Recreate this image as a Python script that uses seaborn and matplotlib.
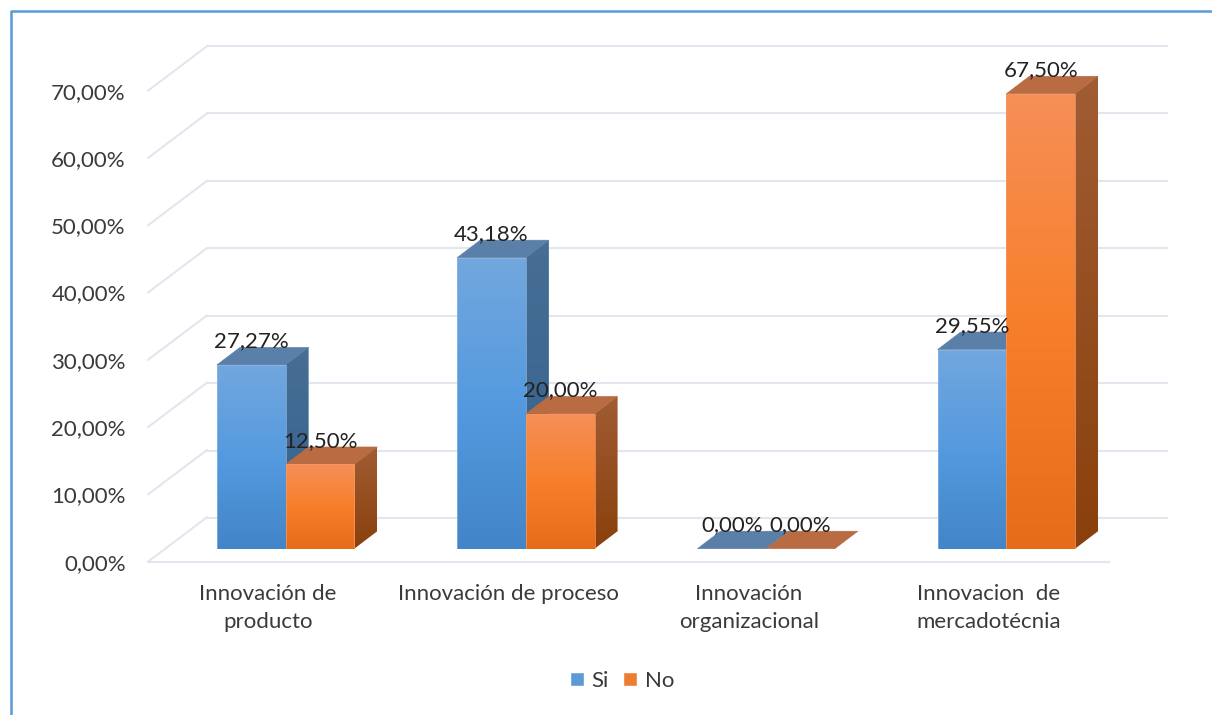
import numpy as np
import pandas as pd
import matplotlib
matplotlib.use("Agg")
import matplotlib.pyplot as plt
import seaborn as sns
from matplotlib.colors import LinearSegmentedColormap
from matplotlib.lines import Line2D
from matplotlib.patches import Polygon

# ---- data ----
categories = ["Innovación de\nproducto", "Innovación de proceso",
              "Innovación\norganizacional", "Innovacion  de\nmercadotécnia"]
si_values = [27.27, 43.18, 0.00, 29.55]
no_values = [12.50, 20.00, 0.00, 67.50]
series_names = ["Si", "No"]
y_ticks = [0, 10, 20, 30, 40, 50, 60, 70]

# ---- style ----
sns.set_theme(style="white")
plt.rcParams["font.family"] = ["Lato", "DejaVu Sans"]
W, H = 1212, 715
FS = 16
TICK_COL = "#3A3A3A"
LABEL_COL = "#222222"
GRID_COL = "#E2E6EF"
front_stops = {"Si": ["#72A7DE", "#559ADF", "#4285C8"], "No": ["#F68F58", "#F77F2A", "#E66C19"]}
side_stops = {"Si": ["#476E94", "#33618F"], "No": ["#A05C33", "#8A400C"]}
top_col = {"Si": "#5A7FA8", "No": "#B96C42"}
edge_col = {"Si": "#8DB9E4", "No": "#F59A68"}
palette = {"Si": "#5B9BD5", "No": "#ED7D31"}


def px_axes(fig, left, right, top, bottom):
    return fig.add_axes([left / W, 1 - bottom / H, (right - left) / W, (bottom - top) / H])


fig = plt.figure(figsize=(W / 100, H / 100), dpi=100, facecolor="white")

# outer frame fragment (left and top only)
fig.add_artist(Line2D([10.5 / W, 10.5 / W, 1], [0, 1 - 10.5 / H, 1 - 10.5 / H],
                      transform=fig.transFigure, color="#5B9BD5", lw=1.8))

# back wall
ax_wall = px_axes(fig, 207, 1167, 46, 518)
ax_wall.set_xlim(0, 1)
ax_wall.set_ylim(0, 70)
ax_wall.set_yticks(y_ticks)
ax_wall.set_xticks([])
ax_wall.tick_params(left=False, labelleft=False)
ax_wall.grid(axis="y", color=GRID_COL, lw=1.5, clip_on=False)
for gl in ax_wall.get_ygridlines():
    gl.set_clip_on(False)
sns.despine(ax=ax_wall, left=True, bottom=True)
ax_wall.patch.set_visible(False)

# front plane: tick labels, floor edge, side-wall diagonals
ax_front = px_axes(fig, 148, 1109, 90.7, 561.7)
ax_front.set_zorder(1)
ax_front.patch.set_visible(False)
ax_front.set_xlim(-0.5, 3.5)
ax_front.set_ylim(0, 70)
ax_front.set_yticks(y_ticks)
ax_front.set_yticklabels([f"{v:.2f}".replace(".", ",") + "%" for v in y_ticks],
                         fontsize=FS, color=TICK_COL)
ax_front.set_xticks(range(len(categories)))
ax_front.set_xticklabels(categories, fontsize=FS, color=TICK_COL, linespacing=1.52)
ax_front.tick_params(axis="y", length=0, pad=16)
ax_front.tick_params(axis="x", length=0, pad=16)
sns.despine(ax=ax_front, left=True)
ax_front.spines["bottom"].set_color(GRID_COL)
ax_front.spines["bottom"].set_linewidth(1.5)
wall_dx = 59 / 240.25
wall_dy = 44.5 / 6.73
for v in y_ticks:
    ax_front.plot([-0.5, -0.5 + wall_dx], [v, v + wall_dy], color=GRID_COL, lw=1.5,
                  clip_on=False, solid_capstyle="round")

# bars plane
ax = px_axes(fig, 165.5, 1126.5, 548.7 - 75 * 6.74, 548.7)
ax.set_zorder(2)
ax.patch.set_visible(False)
df = pd.DataFrame({
    "categoria": categories * 2,
    "valor": si_values + no_values,
    "serie": [series_names[0]] * len(categories) + [series_names[1]] * len(categories),
})
sns.barplot(data=df, x="categoria", y="valor", hue="serie", palette=palette,
            width=0.572, gap=0, saturation=1, ax=ax)
handles, labels = ax.get_legend_handles_labels()
ax.get_legend().remove()
ax.set_xlim(-0.5, 3.5)
ax.set_ylim(0, 75)

dx = 23 / 240.25
dy = 17.5 / 6.74
grad = np.linspace(0, 1, 256)[:, None]

for s_i, (name, container) in enumerate(zip(series_names, ax.containers)):
    base_z = 2 + s_i * 2
    cm_front = LinearSegmentedColormap.from_list(name + "f", front_stops[name])
    cm_side = LinearSegmentedColormap.from_list(name + "s", side_stops[name])
    for bar in container:
        x0, w, h = bar.get_x(), bar.get_width(), bar.get_height()
        x1 = x0 + w
        # top face
        top = Polygon([(x0, h), (x1, h), (x1 + dx, h + dy), (x0 + dx, h + dy)],
                      closed=True, facecolor=top_col[name], edgecolor=top_col[name],
                      lw=0.4, zorder=base_z, transform=ax.transData)
        ax.add_patch(top)
        if h > 0:
            # side face with vertical gradient
            side = Polygon([(x1, 0), (x1 + dx, dy), (x1 + dx, h + dy), (x1, h)],
                           closed=True, transform=ax.transData)
            im = ax.imshow(grad, extent=(x1, x1 + dx, 0, h + dy), aspect="auto",
                           cmap=cm_side, zorder=base_z, origin="upper")
            im.set_clip_path(side)
            # front face with vertical gradient
            im = ax.imshow(grad, extent=(x0, x1, 0, h), aspect="auto",
                           cmap=cm_front, zorder=base_z + 0.5, origin="upper")
            im.set_clip_path(bar)
            bar.set_facecolor("none")
            bar.set_edgecolor(edge_col[name])
            bar.set_linewidth(0.5)
            bar.set_zorder(base_z + 0.6)
        else:
            bar.set_visible(False)
        ax.annotate(f"{h:.2f}".replace(".", ",") + "%", (x0 + w / 2, h),
                    xytext=(0, 17.5 * 0.72), textcoords="offset points",
                    ha="center", va="baseline", fontsize=FS, color=LABEL_COL,
                    zorder=10, annotation_clip=False)

ax.set_xlim(-0.5, 3.5)
ax.set_ylim(0, 75)
ax.set_xlabel("")
ax.set_ylabel("")
ax.set_xticks([])
ax.set_yticks([])
sns.despine(ax=ax, left=True, bottom=True)

fig.legend(handles, labels, loc="center", bbox_to_anchor=(622 / W, 1 - 681 / H), ncol=2,
           frameon=False, fontsize=FS, labelcolor=TICK_COL, handlelength=0.62, handleheight=0.62,
           handletextpad=0.35, columnspacing=0.65)

fig.savefig("out.png", dpi=100)
